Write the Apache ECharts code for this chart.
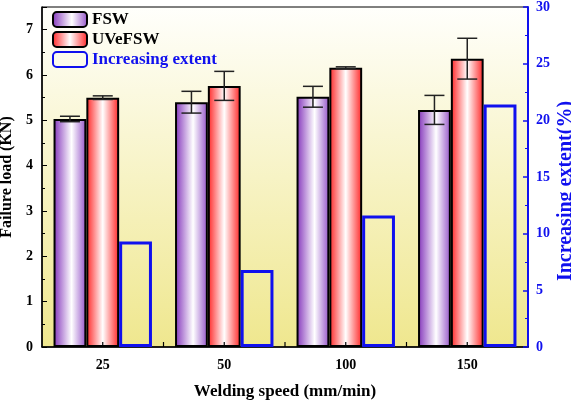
<!DOCTYPE html>
<html>
<head>
<meta charset="utf-8">
<script src="https://cdn.jsdelivr.net/npm/echarts@6/dist/echarts.min.js"></script>
<style>
  html, body { margin: 0; padding: 0; background: #fff; }
  #chart { width: 571px; height: 402px; }
</style>
</head>
<body>
<div id="chart"></div>
<script>
// Data
const speeds = ['25', '50', '100', '150'];
const fswLoad = [5.03, 5.40, 5.52, 5.23];
const fswErr = [0.06, 0.24, 0.23, 0.32];
const uvLoad = [5.50, 5.76, 6.16, 6.36];
const uvErr = [0.04, 0.32, 0.02, 0.45];
const increase = [9.3, 6.8, 11.6, 21.4];

const serif = 'Liberation Serif';
const barW = 0.27; // fraction of category band

// Error bar renderer, offset = bar position within group (-1, 0, 1)
function errorBars(values, errs, offset) {
    return {
        type: 'custom',
        yAxisIndex: 0,
        z: 10,
        data: values.map((v, i) => [i, v - errs[i], v + errs[i]]),
        renderItem: function (params, api) {
            const band = api.size([1, 0])[0];
            const dx = offset * band * barW;
            const lo = api.coord([api.value(0), api.value(1)]);
            const hi = api.coord([api.value(0), api.value(2)]);
            const x = lo[0] + dx;
            const cap = 10;
            const style = { stroke: '#222', lineWidth: 1.5 };
            return {
                type: 'group',
                children: [
                    { type: 'line', shape: { x1: x, y1: lo[1], x2: x, y2: hi[1] }, style: style },
                    { type: 'line', shape: { x1: x - cap, y1: lo[1], x2: x + cap, y2: lo[1] }, style: style },
                    { type: 'line', shape: { x1: x - cap, y1: hi[1], x2: x + cap, y2: hi[1] }, style: style }
                ]
            };
        }
    };
}

// Inward x-axis ticks at each category centre and the boundary after it
const xTicks = {
    type: 'custom',
    yAxisIndex: 0,
    z: 11,
    silent: true,
    data: speeds.map((s, i) => [i, 0]),
    renderItem: function (params, api) {
        const band = api.size([1, 0])[0];
        const p = api.coord([api.value(0), 0]);
        const style = { stroke: '#000', lineWidth: 1.2 };
        const kids = [{ type: 'line', shape: { x1: p[0], y1: p[1], x2: p[0], y2: p[1] - 5 }, style: style }];
        if (params.dataIndex < speeds.length - 1) {
            const bx = p[0] + band / 2;
            kids.push({ type: 'line', shape: { x1: bx, y1: p[1], x2: bx, y2: p[1] - 5 }, style: style });
        }
        return { type: 'group', children: kids };
    }
};

const purple = new echarts.graphic.LinearGradient(0, 0, 1, 0, [
    { offset: 0, color: '#8334bb' },
    { offset: 0.55, color: '#ffffff' },
    { offset: 1, color: '#9452c8' }
]);
const red = new echarts.graphic.LinearGradient(0, 0, 1, 0, [
    { offset: 0, color: '#ff2424' },
    { offset: 0.5, color: '#ffffff' },
    { offset: 1, color: '#ff2424' }
]);

const chart = echarts.init(document.getElementById('chart'));
chart.setOption({
    animation: false,
    backgroundColor: '#ffffff',
    grid: {
        left: 42, right: 43, top: 7, bottom: 55,
        outerBoundsMode: 'none',
        containLabel: false,
        show: true,
        borderColor: '#000',
        borderWidth: 1,
        backgroundColor: new echarts.graphic.LinearGradient(0, 0, 0, 1, [
            { offset: 0, color: '#fffffc' },
            { offset: 1, color: '#efe78e' }
        ])
    },
    legend: {
        orient: 'vertical',
        left: 47, top: 6,
        itemWidth: 34, itemHeight: 15,
        itemGap: 3,
        textStyle: { fontFamily: serif, fontWeight: 'bold', fontSize: 17, color: '#000' },
        data: [
            { name: 'FSW' },
            { name: 'UVeFSW' },
            { name: 'Increasing extent', textStyle: { color: '#1010ee' } }
        ]
    },
    xAxis: {
        type: 'category',
        data: speeds,
        name: 'Welding speed (mm/min)',
        nameLocation: 'middle',
        nameGap: 36,
        nameTextStyle: { fontFamily: serif, fontWeight: 'bold', fontSize: 17, color: '#000' },
        axisLine: { lineStyle: { color: '#000', width: 1.5 } },
        axisTick: { show: false },
        axisLabel: { fontFamily: serif, fontWeight: 'bold', fontSize: 14, color: '#000', margin: 11 }
    },
    yAxis: [
        {
            type: 'value',
            min: 0, max: 7.5, interval: 1,
            name: 'Failure load (KN)',
            nameLocation: 'middle',
            nameGap: 27,
            nameMoveOverlap: false,
            nameTextStyle: { fontFamily: serif, fontWeight: 'bold', fontSize: 16, color: '#000' },
            axisLine: { show: true, lineStyle: { color: '#000', width: 1.5 } },
            axisTick: { show: true, inside: true, length: 5, lineStyle: { color: '#000' } },
            minorTick: { show: true, splitNumber: 2, length: 3, lineStyle: { color: '#000' } },
            splitLine: { show: false },
            axisLabel: {
                fontFamily: serif, fontWeight: 'bold', fontSize: 14, color: '#000', margin: 9,
                formatter: v => (v > 7 ? '' : v)
            }
        },
        {
            type: 'value',
            min: 0, max: 30, interval: 5,
            name: 'Increasing extent(%)',
            nameLocation: 'middle',
            nameGap: 28,
            nameRotate: 90,
            nameMoveOverlap: false,
            nameTextStyle: {
                fontFamily: serif, fontWeight: 'bold', fontSize: 20, color: '#1010ee',
                padding: [0, 28, 0, 0]
            },
            axisLine: { show: true, lineStyle: { color: '#1010ee', width: 2 } },
            axisTick: { show: true, inside: true, length: 5, lineStyle: { color: '#1010ee', width: 1.5 } },
            minorTick: { show: true, splitNumber: 2, length: 3, lineStyle: { color: '#1010ee' } },
            splitLine: { show: false },
            axisLabel: { fontFamily: serif, fontWeight: 'bold', fontSize: 14, color: '#1010ee', margin: 8 }
        }
    ],
    series: [
        {
            name: 'FSW',
            type: 'bar',
            data: fswLoad,
            barWidth: '27%',
            barGap: '0%',
            itemStyle: { color: purple, borderColor: '#000', borderWidth: 2 }
        },
        {
            name: 'UVeFSW',
            type: 'bar',
            data: uvLoad,
            barWidth: '27%',
            barGap: '0%',
            itemStyle: { color: red, borderColor: '#000', borderWidth: 2 }
        },
        {
            name: 'Increasing extent',
            type: 'bar',
            yAxisIndex: 1,
            data: increase,
            barWidth: '27%',
            barGap: '0%',
            itemStyle: { color: 'rgba(0,0,0,0)', borderColor: '#1010ee', borderWidth: 3 }
        },
        errorBars(fswLoad, fswErr, -1),
        errorBars(uvLoad, uvErr, 0),
        xTicks
    ]
});
</script>
</body>
</html>
